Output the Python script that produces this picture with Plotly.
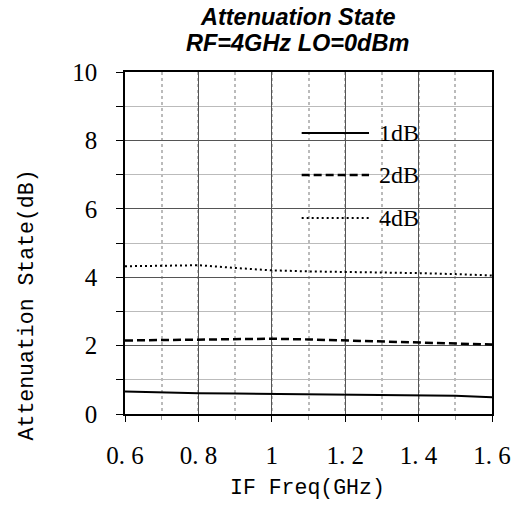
import plotly.graph_objects as go

freq = [0.6, 0.7, 0.8, 0.9, 1.0, 1.1, 1.2, 1.3, 1.4, 1.5, 1.6]
att_1db = [0.66, 0.63, 0.61, 0.60, 0.59, 0.58, 0.58, 0.57, 0.56, 0.53, 0.49]
att_2db = [2.15, 2.16, 2.17, 2.19, 2.20, 2.18, 2.15, 2.12, 2.09, 2.06, 2.03]
att_4db = [4.32, 4.34, 4.35, 4.27, 4.20, 4.17, 4.16, 4.14, 4.12, 4.09, 4.05]
series_names = ["1dB", "2dB", "4dB"]
x_tickvals = [0.6, 0.8, 1.0, 1.2, 1.4, 1.6]
x_ticktext = ["0. 6", "0. 8", "1", "1. 2", "1. 4", "1. 6"]
y_tickvals = [0, 2, 4, 6, 8, 10]

W, H = 523, 505
L, R, T, B = 125, 22, 72, 91
pw, ph = W - L - R, H - T - B

def px_x(p):
    return (p - L) / pw

def px_y(p):
    return (H - B - p) / ph

fig = go.Figure()
styles = [dict(dash="solid", width=2), dict(dash="8px,4px", width=2.5), dict(dash="2px,3px", width=2)]
for name, ys, st in zip(series_names, [att_1db, att_2db, att_4db], styles):
    fig.add_trace(go.Scatter(x=freq, y=ys, mode="lines", name=name,
                             line=dict(color="black", dash=st["dash"], width=st["width"]),
                             showlegend=False))

tick_font = dict(family="Liberation Serif", size=25, color="black")
fig.update_xaxes(range=[0.6, 1.6], tickvals=x_tickvals, ticktext=x_ticktext,
                 ticks="outside", ticklen=6, tickcolor="black",
                 showline=True, linecolor="black", linewidth=1.5, mirror=True,
                 showgrid=True, gridcolor="#555555", gridwidth=1,
                 minor=dict(dtick=0.1, tick0=0.6, showgrid=True, gridcolor="#bbbbbb",
                            griddash="dot", gridwidth=1.5, ticks="outside", ticklen=4,
                            tickcolor="#999999"),
                 tickfont=tick_font, ticklabelstandoff=12, zeroline=False)
fig.update_yaxes(range=[0, 10], tickvals=y_tickvals,
                 ticks="outside", ticklen=7, tickcolor="black",
                 showline=True, linecolor="black", linewidth=1.5, mirror=True,
                 showgrid=True, gridcolor="#555555", gridwidth=1,
                 minor=dict(dtick=1, tick0=0, showgrid=True, gridcolor="#bbbbbb",
                            gridwidth=1, ticks="outside", ticklen=7, tickcolor="black"),
                 tickfont=tick_font, ticklabelstandoff=14, zeroline=False)

ann = []
title_font = dict(family="Liberation Sans", size=23.5, color="black", weight="bold", style="italic")
ann.append(dict(text="Attenuation State", x=px_x(302), y=px_y(17), xref="paper", yref="paper",
                showarrow=False, font=title_font, xanchor="center", yanchor="middle"))
ann.append(dict(text="RF=4GHz LO=0dBm", x=px_x(302), y=px_y(43), xref="paper", yref="paper",
                showarrow=False, font=title_font, xanchor="center", yanchor="middle"))
axis_font = dict(family="Liberation Mono", size=21.5, color="black")
ann.append(dict(text="IF Freq(GHz)", x=px_x(312), y=px_y(488), xref="paper", yref="paper",
                showarrow=False, font=axis_font, xanchor="center", yanchor="middle"))
ann.append(dict(text="Attenuation State(dB)", x=px_x(25), y=px_y(305), xref="paper", yref="paper",
                showarrow=False, font=axis_font, textangle=-90, xanchor="center", yanchor="middle"))

# legend
leg_y = [133, 175, 218]
shapes = []
for name, st, yy in zip(series_names, styles, leg_y):
    shapes.append(dict(type="line", xref="paper", yref="paper", x0=px_x(306), x1=px_x(375),
                       y0=px_y(yy), y1=px_y(yy),
                       line=dict(color="black", dash=st["dash"], width=st["width"])))
    ann.append(dict(text=name, x=px_x(383), y=px_y(yy), xref="paper", yref="paper",
                    showarrow=False, xanchor="left", yanchor="middle",
                    font=dict(family="Liberation Serif", size=24, color="black")))

fig.update_layout(width=W, height=H, margin=dict(l=L, r=R, t=T, b=B),
                  plot_bgcolor="white", paper_bgcolor="white",
                  annotations=ann, shapes=shapes, showlegend=False)

fig.write_html("out.html")
